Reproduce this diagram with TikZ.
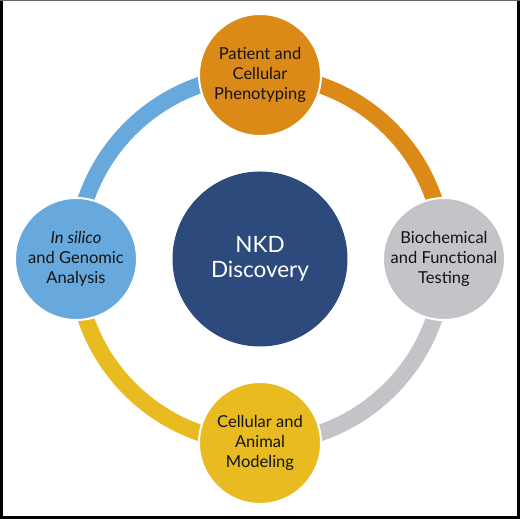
\documentclass[tikz,border=0pt]{standalone}
\usepackage{fontspec}
\setmainfont{Lato}
\definecolor{cOrange}{RGB}{219,137,23}
\definecolor{cGray}{RGB}{196,195,200}
\definecolor{cYellow}{RGB}{232,187,32}
\definecolor{cBlue}{RGB}{103,169,221}
\definecolor{cNavy}{RGB}{44,74,124}
\definecolor{cText}{RGB}{20,20,20}
\begin{document}
\begin{tikzpicture}[x=1pt,y=1pt,
  sat/.style={circle,draw=white,line width=2pt,minimum size=122pt,inner sep=0pt,
    align=center,text=cText,font=\fontsize{16.5}{19.7}\selectfont},
  hub/.style={circle,minimum size=175pt,inner sep=0pt,fill=cNavy,text=white,
    align=center,font=\fontsize{22.5}{24.5}\selectfont},
  ringarc/.style={line width=16.5pt}]
\useasboundingbox (0,0) rectangle (520,519);
\fill[white] (0,0) rectangle (520,519);
\draw[black,line width=2.7pt] (1.3,519) -- (1.3,1.6) -- (518.4,1.6) -- (518.4,519);
\draw[black!60,line width=1pt] (0,518.5) -- (520,518.5);
\coordinate (c) at (260,260);
\node[hub] (hub) at (c) {NKD\\Discovery};
\path (c) +(90:184) coordinate (pt) +(0:184) coordinate (pr)
      +(270:184) coordinate (pb) +(180:184) coordinate (pl);
\draw[ringarc,cOrange] (pt) arc[start angle=90,end angle=0,radius=184];
\draw[ringarc,cGray] (pr) arc[start angle=0,end angle=-90,radius=184];
\draw[ringarc,cYellow] (pb) arc[start angle=270,end angle=180,radius=184];
\draw[ringarc,cBlue] (pl) arc[start angle=180,end angle=90,radius=184];
\node[sat,fill=cOrange] (top) at (pt) {Patient and\\Cellular\\Phenotyping};
\node[sat,fill=cGray] (right) at (pr) {Biochemical\\and Functional\\Testing};
\node[sat,fill=cYellow] (bottom) at (pb) {Cellular and\\Animal\\Modeling};
\node[sat,fill=cBlue] (left) at (pl) {\textit{In silico}\\and Genomic\\Analysis};
\end{tikzpicture}
\end{document}
